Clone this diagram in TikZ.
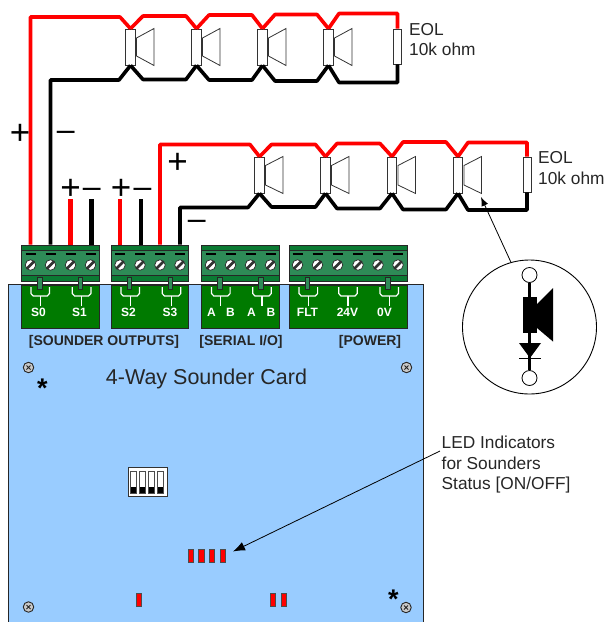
\documentclass[tikz,border=0pt]{standalone}
\usepackage{fontspec}
\setmainfont{Liberation Sans}
\usetikzlibrary{arrows.meta}

\definecolor{cardblue}{HTML}{99CCFF}
\definecolor{panelgreen}{HTML}{007A00}
\definecolor{blockgreen}{HTML}{2E8B57}
\definecolor{stripgreen}{HTML}{0B7A33}
\definecolor{screwgrey}{HTML}{C8C8C8}
\definecolor{wirered}{HTML}{FF0000}

\tikzset{
  redwire/.style={draw=wirered,line width=3.6pt,line join=round},
  blackwire/.style={draw=black,line width=3.6pt,line join=round},
  stubred/.style={draw=wirered,line width=4.6pt},
  stubblack/.style={draw=black,line width=4.6pt},
  spkbox/.style={draw=black!80,fill=white,line width=0.8pt,minimum width=9.5pt,minimum height=36pt,inner sep=0pt},
  cone/.style={draw=black!80,line width=0.8pt},
  panel/.style={draw=black!85,fill=panelgreen,line width=0.9pt,minimum height=43pt,inner sep=0pt},
  blockbody/.style={draw=black!85,fill=stripgreen,line width=0.9pt,minimum height=36pt,inner sep=0pt},
  blockmid/.style={draw=black!85,fill=blockgreen,line width=0.7pt,minimum height=25.5pt,inner sep=0pt},
  screwhead/.style={circle,draw=black!85,fill=white,line width=0.7pt,minimum size=10.5pt,inner sep=0pt,
    path picture={\draw[line width=2.6pt,black!80] (path picture bounding box.south west) -- (path picture bounding box.north east);}},
  pinbar/.style={draw=black!85,fill=blockgreen,line width=0.7pt,minimum width=4.5pt,minimum height=12pt,inner sep=0pt},
  tickbar/.style={draw=black,line width=1.2pt},
  brack/.style={draw=white,line width=1.2pt},
  whitelabel/.style={text=white,font=\bfseries\fontsize{12}{14}\selectfont,inner sep=0pt},
  grouplabel/.style={text=black!85,font=\bfseries\fontsize{14}{16}\selectfont,inner sep=0pt},
  plain/.style={font=\fontsize{17.3}{20.5}\selectfont,align=left,inner sep=0pt,anchor=north west,text=black!85},
  plusmark/.style={font=\fontsize{35}{35}\selectfont,inner sep=0pt},
  minusmark/.style={font=\fontsize{32}{32}\selectfont,inner sep=0pt},
  mountscrew/.style={circle,draw=black!85,fill=screwgrey,line width=0.9pt,minimum size=10.5pt,inner sep=0pt,
    path picture={\draw[line width=0.9pt,black!85] (path picture bounding box.center)+(-2,-2) -- +(2,2) (path picture bounding box.center)+(-2,2) -- +(2,-2);}},
  ledbar/.style={draw=black!70,fill=red,line width=1pt,minimum width=5.5pt,minimum height=13pt,inner sep=0pt},
  dipslot/.style={draw=black!70,fill=white,line width=0.7pt,minimum width=6pt,minimum height=22pt,inner sep=0pt,
    path picture={\fill[black] (path picture bounding box.south west) rectangle ([yshift=7pt]path picture bounding box.south east);}},
}

\begin{document}
\begin{tikzpicture}[x=1pt,y=-1pt]
  \useasboundingbox (0,0) rectangle (605,622);
  % card
  \path[draw=black!85,fill=cardblue,line width=0.9pt] (8.5,630) -- (8.5,284.5) -- (423.5,284.5) -- (423.5,630);
  % green panels under the terminals
  \node[panel,minimum width=77.5pt] (panelA) at (60.25,306.5) {};
  \node[panel,minimum width=77.5pt] (panelB) at (149.75,306.5) {};
  \node[panel,minimum width=77.5pt] (panelC) at (240.25,306.5) {};
  \node[panel,minimum width=118pt] (panelD) at (348,306.5) {};
  % terminal blocks
  \foreach \blk/\x/\w in {A/60.25/77.5,B/149.75/77.5,C/240.25/77.5,D/348/118}{
    \node[blockbody,minimum width=\w pt,fill=white,draw=none,minimum height=40pt] (gap\blk) at (\x,263) {};
    \node[blockbody,minimum width=\w pt] (blk\blk) at (\x,263) {};
    \node[blockmid,minimum width=\w pt] (mid\blk) at (\x,263) {};
  }
  \foreach \n/\x in {a1/30.5,a2/50.5,a3/70.5,a4/90.5,b1/120,b2/140,b3/160,b4/180,
                     c1/210.5,c2/230.5,c3/250.5,c4/270.5,
                     d1/297.5,d2/317.5,d3/337.5,d4/358,d5/378,d6/398}{
    \node[screwhead] (scr\n) at (\x,265) {};
    \draw[tickbar] (\x-5,254) -- (\x+5,254);
  }
  \foreach \n/\x in {a/40,b/80.5,e/129.5,f/170.5,g/220,h/261,j/307.5,k/388}{
    \node[pinbar] (pin\n) at (\x,283) {};
  }
  % brackets on the panels
  \foreach \x in {40.2,81.6,130.2,171.5,220.8,262,308.3,348,389.2}{
    \draw[brack] (\x-9.3,287) -- (\x-9.3,293.5) -- (\x-7,296) -- (\x+7,296) -- (\x+9.3,293.5) -- (\x+9.3,287);
    \draw[brack] (\x,296) -- (\x,305.5);
  }
  \node[whitelabel] (lblS0) at (38.5,312.5) {S0};
  \node[whitelabel] (lblS1) at (79.5,312.5) {S1};
  \node[whitelabel] (lblS2) at (128.5,312.5) {S2};
  \node[whitelabel] (lblS3) at (170,312.5) {S3};
  \node[whitelabel] (lblA1) at (211.5,312.5) {A};
  \node[whitelabel] (lblB1) at (230.5,312.5) {B};
  \node[whitelabel] (lblA2) at (251.5,312.5) {A};
  \node[whitelabel] (lblB2) at (271,312.5) {B};
  \node[whitelabel] (lblFLT) at (307.5,312.5) {FLT};
  \node[whitelabel] (lbl24V) at (347.5,312.5) {24V};
  \node[whitelabel] (lbl0V) at (384.5,312.5) {0V};
  \node[grouplabel] (grpS) at (104,342) {[SOUNDER OUTPUTS]};
  \node[grouplabel] (grpI) at (241,342) {[SERIAL I/O]};
  \node[grouplabel] (grpP) at (370,342) {[POWER]};
  \node[inner sep=0pt,font=\fontsize{21.5}{24}\selectfont,text=black!85] (cardname) at (206.5,379) {4-Way Sounder Card};
  % mounting holes
  \node[mountscrew] (holeA) at (28.5,367.5) {};
  \node[mountscrew] (holeB) at (406.5,367.5) {};
  \node[mountscrew] (holeC) at (28.5,607) {};
  \node[mountscrew] (holeD) at (406,607.5) {};
  \node[inner sep=0pt,font=\bfseries\fontsize{27}{27}\selectfont] (starA) at (42.5,388) {*};
  \node[inner sep=0pt,font=\bfseries\fontsize{27}{27}\selectfont] (starB) at (393.5,599) {*};
  % dip switch
  \node[draw=black!80,fill=white,line width=0.9pt,minimum width=39pt,minimum height=29pt,inner sep=0pt] (dipbox) at (147.5,482) {};
  \foreach \i/\x in {1/133.3,2/142.5,3/151.5,4/160.7}{
    \node[dipslot] (dip\i) at (\x,482.5) {};
  }
  % leds
  \foreach \i/\x in {1/191,2/201.5,3/212,4/223}{
    \node[ledbar] (led\i) at (\x,556) {};
  }
  \node[ledbar] (ledA) at (139,599.5) {};
  \node[ledbar] (ledB) at (273,599.5) {};
  \node[ledbar] (ledC) at (284,599.5) {};
  \node[plain] (ledtext) at (441.5,436) {LED Indicators\\for Sounders\\Status [ON/OFF]};
  \coordinate (ledtail) at (440,451);
  \coordinate (ledtip) at (233,551.5);
  \draw[-{Latex[length=12pt,width=9pt]},line width=0.8pt] (ledtail) -- (ledtip);

  % upper loop
  \foreach \i/\x in {1/130.5,2/196.5,3/262.5,4/328.5}{
    \node[spkbox] (up\i) at (\x,47) {};
    \draw[cone] (\x+6,38) -- (\x+23.5,28.5) -- (\x+23.5,65.5) -- (\x+6,56) -- cycle;
  }
  \node[spkbox,minimum width=8pt,minimum height=35pt] (upeol) at (397.5,46.5) {};
  \draw[redwire] (scra1 |- blkA.north) |- (120,17) -- (up1.north);
  \draw[blackwire] (scra2 |- blkA.north) |- (119,80) -- (up1.south);
  \foreach \i/\j/\xa/\xb/\yr/\yb in {1/2/143/186/16/79.5,2/3/209/252/15/80,3/4/275/317/14.5/81}{
    \draw[redwire] (up\i.north) -- (\xa,\yr) -- (\xb,\yr) -- (up\j.north);
    \draw[blackwire] (up\i.south) -- (\xa,\yb) -- (\xb,\yb) -- (up\j.south);
  }
  \draw[redwire] (up4.north) -- (339,13.5) -| (upeol.north);
  \draw[blackwire] (up4.south) -- (339,82.5) -| (upeol.south);
  \node[plain] (upeoltext) at (409,23) {EOL\\10k ohm};

  % lower loop
  \foreach \i/\x in {1/259.5,2/325.5,3/392,4/458}{
    \node[spkbox] (lo\i) at (\x,175) {};
    \draw[cone] (\x+6,165.5) -- (\x+23.5,156.5) -- (\x+23.5,193.5) -- (\x+6,185) -- cycle;
  }
  \node[spkbox,minimum width=8pt,minimum height=35pt] (loeol) at (527,174.5) {};
  \draw[redwire] (scrb3 |- blkB.north) |- (250,144.5) -- (lo1.north);
  \draw[blackwire] (scrb4 |- blkB.north) |- (248,207.5) -- (lo1.south);
  \foreach \i/\j/\xa/\xb/\yr/\yb in {1/2/271.5/315.5/144.5/207,2/3/337/380/143.5/208.5,3/4/403/446/142/209.5}{
    \draw[redwire] (lo\i.north) -- (\xa,\yr) -- (\xb,\yr) -- (lo\j.north);
    \draw[blackwire] (lo\i.south) -- (\xa,\yb) -- (\xb,\yb) -- (lo\j.south);
  }
  \draw[redwire] (lo4.north) -- (468,142.5) -| (loeol.north);
  \draw[blackwire] (lo4.south) -- (468,210) -| (loeol.south);
  \node[plain] (loeoltext) at (538,151.5) {EOL\\10k ohm};

  % short wires
  \draw[stubred] (scra3 |- blkA.north) -- ++(0,-46);
  \draw[stubblack] ([xshift=0.8pt]scra4 |- blkA.north) -- ++(0,-46);
  \draw[stubred] (scrb1 |- blkB.north) -- ++(0,-46);
  \draw[stubblack] ([xshift=1pt]scrb2 |- blkB.north) -- ++(0,-46);

  % polarity marks
  \node[plusmark] (plusA) at (20,134.3) {+};
  \node[minusmark] (minusA) at (65.8,136.3) {–};
  \node[plusmark] (plusB) at (70.5,189.7) {+};
  \node[minusmark] (minusB) at (91.7,192.7) {–};
  \node[plusmark] (plusC) at (121,189.7) {+};
  \node[minusmark] (minusC) at (142.5,192.7) {–};
  \node[plusmark] (plusD) at (177.5,163.7) {+};
  \node[minusmark] (minusD) at (196.7,225.3) {–};

  % symbol detail
  \node[circle,draw=black,fill=white,line width=0.9pt,minimum size=134pt,inner sep=0pt] (inset) at (529.5,327) {};
  \node[circle,draw=black,fill=white,line width=0.8pt,minimum size=15pt,inner sep=0pt] (padtop) at (529.5,275) {};
  \node[circle,draw=black,fill=white,line width=0.8pt,minimum size=15pt,inner sep=0pt] (padbot) at (529.5,378) {};
  \draw[line width=3pt] (padtop) -- (padbot);
  \node[draw=black,fill=black,minimum width=13pt,minimum height=35pt,inner sep=0pt] (symbox) at (529.5,314.5) {};
  \fill (537,304) -- (553,288) -- (553,341.5) -- (537,328) -- cycle;
  \fill (519,343) -- (541,343) -- (530,358) -- cycle;
  \draw[line width=1.6pt] (519,358.5) -- (541,358.5);
  \coordinate (insettip) at (481,197);
  \draw[-{Latex[length=9pt,width=7pt]},line width=0.8pt] (inset.106) -- (insettip);
\end{tikzpicture}
\end{document}
